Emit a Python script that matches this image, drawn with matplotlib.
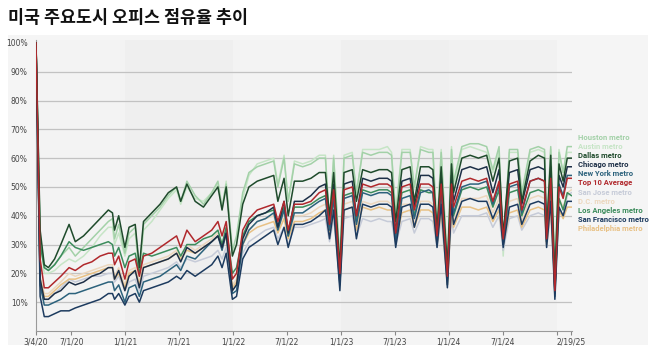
import matplotlib
matplotlib.use("Agg")
import matplotlib.pyplot as plt
import numpy as np
import pandas as pd

dates = [
    "2020-03-04", "2020-03-18", "2020-04-01", "2020-04-15", "2020-05-06", "2020-05-27", "2020-06-24", "2020-07-15",
    "2020-08-12", "2020-09-09", "2020-10-07", "2020-11-04", "2020-11-18", "2020-11-25", "2020-12-09", "2020-12-30",
    "2021-01-13", "2021-02-03", "2021-02-17", "2021-03-03", "2021-03-31", "2021-04-28", "2021-05-26", "2021-06-23",
    "2021-07-07", "2021-07-28", "2021-08-25", "2021-09-22", "2021-10-20", "2021-11-10", "2021-11-24", "2021-12-08",
    "2021-12-29",
    "2022-01-12", "2022-02-02", "2022-02-23", "2022-03-23", "2022-04-20", "2022-05-18", "2022-06-01", "2022-06-22",
    "2022-07-06", "2022-07-27", "2022-08-24", "2022-09-21", "2022-10-19", "2022-11-09", "2022-11-23", "2022-12-07",
    "2022-12-28",
    "2023-01-11", "2023-02-08", "2023-02-22", "2023-03-15", "2023-04-12", "2023-05-10", "2023-06-07", "2023-06-21",
    "2023-07-05", "2023-07-26", "2023-08-23", "2023-09-06", "2023-09-27", "2023-10-25", "2023-11-08", "2023-11-22",
    "2023-12-06", "2023-12-27",
    "2024-01-10", "2024-01-17", "2024-02-14", "2024-03-13", "2024-04-10", "2024-05-08", "2024-05-29", "2024-06-19",
    "2024-07-03", "2024-07-24", "2024-08-21", "2024-09-04", "2024-10-02", "2024-10-30", "2024-11-20", "2024-11-27",
    "2024-12-11", "2024-12-25",
    "2025-01-08", "2025-01-22", "2025-02-05", "2025-02-19",
]

houston = [100, 33, 22, 21, 23, 26, 29, 26, 29, 32, 35, 38, 39, 32, 37, 27,
           34, 36, 20, 37, 40, 43, 47, 50, 45, 52, 47, 44, 48, 52, 43, 51, 28,
           33, 48, 55, 57, 58, 59, 50, 60, 45, 58, 57, 58, 60, 60, 38, 60, 24,
           60, 61, 48, 62, 61, 62, 62, 61, 40, 62, 62, 50, 63, 62, 62, 35, 62, 23,
           63, 52, 64, 65, 65, 64, 56, 64, 28, 63, 63, 48, 63, 64, 63, 35, 64, 20,
           62, 55, 64, 64]
austin = [100, 32, 20, 20, 21, 23, 25, 24, 26, 29, 33, 36, 36, 30, 34, 26,
          32, 34, 19, 35, 38, 42, 46, 49, 44, 50, 46, 45, 48, 51, 42, 52, 27,
          30, 46, 54, 58, 59, 60, 51, 61, 45, 59, 58, 59, 61, 61, 37, 61, 23,
          61, 62, 47, 63, 63, 63, 64, 62, 41, 63, 63, 49, 64, 63, 63, 34, 63, 22,
          64, 50, 63, 64, 63, 62, 55, 62, 26, 62, 62, 47, 62, 63, 62, 34, 63, 19,
          63, 55, 62, 62]
dallas = [100, 35, 23, 22, 25, 30, 37, 31, 33, 36, 39, 42, 41, 35, 40, 29,
          36, 37, 22, 38, 41, 44, 48, 50, 45, 51, 45, 43, 47, 50, 42, 50, 26,
          30, 44, 50, 52, 53, 54, 45, 53, 40, 52, 52, 53, 55, 55, 40, 55, 22,
          55, 56, 45, 56, 55, 56, 56, 55, 38, 56, 57, 45, 57, 57, 56, 35, 57, 22,
          58, 48, 60, 61, 60, 61, 52, 60, 33, 59, 60, 45, 59, 61, 60, 34, 61, 18,
          58, 52, 60, 60]
chicago = [100, 18, 11, 11, 13, 14, 17, 16, 17, 19, 20, 22, 22, 18, 21, 14,
           19, 21, 15, 22, 23, 24, 25, 27, 24, 29, 27, 29, 31, 33, 29, 34, 14,
           16, 32, 37, 40, 41, 43, 36, 45, 34, 45, 45, 47, 50, 51, 37, 51, 18,
           51, 52, 40, 53, 52, 53, 53, 52, 34, 52, 53, 43, 54, 54, 53, 33, 54, 18,
           54, 45, 56, 57, 56, 57, 48, 56, 33, 55, 56, 44, 56, 57, 56, 33, 57, 13,
           54, 50, 57, 57]
new_york = [100, 16, 9, 9, 10, 11, 13, 13, 14, 15, 16, 17, 17, 14, 16, 10,
            15, 16, 12, 17, 18, 19, 21, 23, 21, 26, 25, 28, 31, 33, 28, 34, 13,
            14, 30, 35, 38, 39, 41, 35, 42, 33, 41, 41, 43, 45, 46, 35, 46, 16,
            46, 47, 37, 48, 47, 48, 48, 47, 31, 46, 47, 39, 48, 49, 48, 30, 49, 16,
            49, 41, 50, 51, 51, 52, 44, 51, 30, 50, 51, 41, 52, 53, 52, 31, 53, 12,
            51, 47, 54, 54]
top10 = [100, 25, 15, 15, 17, 19, 22, 21, 23, 24, 26, 27, 27, 23, 26, 18,
         24, 25, 19, 26, 27, 29, 31, 33, 29, 35, 31, 33, 35, 38, 33, 38, 18,
         20, 35, 39, 42, 43, 44, 38, 45, 35, 44, 44, 45, 48, 49, 37, 49, 20,
         49, 50, 40, 51, 50, 51, 51, 50, 34, 50, 51, 42, 51, 51, 50, 33, 51, 19,
         51, 43, 52, 53, 52, 53, 45, 52, 32, 51, 52, 42, 52, 53, 52, 32, 53, 14,
         50, 46, 53, 53]
san_jose = [100, 16, 11, 11, 13, 15, 18, 17, 18, 19, 19, 20, 20, 17, 19, 14,
            17, 18, 14, 19, 20, 21, 22, 24, 22, 25, 24, 25, 26, 28, 25, 29, 14,
            16, 27, 31, 33, 35, 36, 32, 36, 30, 36, 36, 37, 38, 39, 31, 39, 17,
            39, 40, 33, 39, 38, 39, 38, 38, 30, 38, 39, 34, 39, 39, 38, 29, 39, 17,
            39, 34, 40, 40, 40, 41, 36, 40, 28, 39, 40, 35, 40, 41, 40, 29, 41, 15,
            42, 40, 47, 48]
dc = [100, 19, 13, 13, 15, 17, 20, 19, 20, 21, 22, 23, 23, 19, 22, 16,
      21, 22, 17, 23, 24, 25, 26, 28, 26, 30, 28, 30, 32, 34, 30, 34, 16,
      18, 31, 35, 38, 39, 40, 35, 41, 33, 40, 40, 41, 43, 44, 34, 44, 17,
      44, 45, 36, 45, 44, 45, 45, 44, 32, 44, 44, 37, 45, 45, 44, 31, 45, 17,
      45, 38, 46, 46, 46, 47, 41, 46, 30, 45, 46, 38, 46, 47, 46, 31, 47, 14,
      46, 43, 48, 49]
los_angeles = [100, 30, 22, 21, 23, 26, 31, 29, 28, 29, 30, 31, 30, 26, 29, 22,
               26, 27, 20, 27, 26, 27, 28, 29, 26, 30, 30, 32, 33, 35, 30, 36, 20,
               22, 33, 38, 40, 41, 42, 36, 43, 33, 43, 43, 44, 46, 47, 36, 47, 19,
               47, 48, 38, 49, 48, 49, 49, 48, 33, 48, 49, 40, 49, 48, 48, 32, 48, 20,
               48, 40, 49, 50, 49, 50, 43, 49, 30, 48, 49, 40, 48, 49, 48, 31, 49, 15,
               46, 42, 48, 47]
san_francisco = [100, 12, 5, 5, 6, 7, 7, 8, 9, 10, 11, 13, 13, 11, 13, 9,
                 12, 13, 10, 14, 15, 16, 17, 19, 18, 21, 19, 21, 23, 26, 22, 27, 11,
                 12, 25, 29, 31, 33, 35, 30, 36, 29, 37, 37, 38, 40, 42, 32, 42, 14,
                 42, 43, 32, 44, 43, 44, 44, 43, 29, 43, 44, 36, 44, 44, 43, 29, 44, 15,
                 44, 37, 45, 46, 45, 45, 39, 44, 29, 43, 44, 37, 44, 45, 44, 29, 45, 11,
                 43, 40, 45, 45]
philadelphia = [100, 18, 12, 12, 14, 16, 18, 18, 19, 20, 21, 22, 22, 18, 20, 15,
                20, 21, 16, 22, 23, 24, 25, 27, 25, 28, 27, 29, 31, 33, 29, 33, 15,
                17, 30, 34, 36, 37, 38, 34, 39, 32, 38, 38, 39, 41, 42, 33, 42, 17,
                42, 43, 35, 43, 42, 43, 42, 42, 31, 41, 42, 36, 42, 42, 41, 30, 42, 16,
                42, 36, 43, 43, 42, 43, 38, 42, 30, 41, 42, 36, 42, 43, 42, 30, 43, 15,
                42, 39, 43, 43]

labels = ["Houston metro", "Austin metro", "Dallas metro", "Chicago metro", "New York metro",
          "Top 10 Average", "San Jose metro", "D.C. metro", "Los Angeles metro",
          "San Francisco metro", "Philadelphia metro"]
colors = ["#a3d1a8", "#c6e5c6", "#1f4b2c", "#1d2f47", "#2c627c",
          "#b0282c", "#c6cbd8", "#ecd7be", "#3c8c5c", "#1d3b5f", "#e8c185"]
series = [houston, austin, dallas, chicago, new_york, top10, san_jose, dc,
          los_angeles, san_francisco, philadelphia]

tick_dates = ["2020-03-04", "2020-07-01", "2021-01-01", "2021-07-01", "2022-01-01", "2022-07-01",
              "2023-01-01", "2023-07-01", "2024-01-01", "2024-07-01", "2025-01-01", "2025-02-19"]
tick_labels = ["3/4/20", "7/1/20", "1/1/21", "7/1/21", "1/1/22", "7/1/22",
               "1/1/23", "7/1/23", "1/1/24", "7/1/24", "", "2/19/25"]
y_ticks = [10, 20, 30, 40, 50, 60, 70, 80, 90, 100]
y_labels = [f"{v}%" for v in y_ticks]
title = "미국 주요도시 오피스 점유율 추이"

x = pd.to_datetime(dates)
for s in series:
    assert len(s) == len(x)

W, H = 658, 351
fig = plt.figure(figsize=(W / 100, H / 100), dpi=100)
fig.patch.set_facecolor("white")

# light panel behind the chart
bg = fig.add_axes([8 / W, 6 / H, 640 / W, 310 / H], zorder=0)
bg.set_facecolor("#f5f5f5")
bg.set_xticks([])
bg.set_yticks([])
for sp in bg.spines.values():
    sp.set_visible(False)

ax = fig.add_axes([36 / W, (H - 331) / H, (572 - 36) / W, 291 / H], zorder=1)
ax.set_facecolor("#f1f1f1")
ax.set_xlim(pd.Timestamp("2020-03-04"), pd.Timestamp("2025-02-21"))
ax.set_ylim(0, 101)

# alternating year bands (very subtle)
band_edges = ["2020-03-04", "2021-01-01", "2022-01-01", "2023-01-01", "2024-01-01", "2025-01-01", "2025-02-21"]
band_cols = ["#f3f3f3", "#efefef", "#f3f3f3", "#efefef", "#f1f1f1", "#f5f5f5"]
for i in range(len(band_edges) - 1):
    ax.axvspan(pd.Timestamp(band_edges[i]), pd.Timestamp(band_edges[i + 1]),
               color=band_cols[i], zorder=0, lw=0)

for v in y_ticks[:-1]:
    ax.axhline(v, color="#c2c2c2", lw=0.9, zorder=1)

draw_order = [1, 0, 6, 7, 10, 8, 4, 3, 9, 2, 5]
for i in draw_order:
    ax.plot(x, series[i], color=colors[i], lw=1.1, zorder=3)

ax.set_yticks(y_ticks)
ax.set_yticklabels(y_labels)
ax.set_xticks(pd.to_datetime(tick_dates))
ax.set_xticklabels(tick_labels)
ax.tick_params(axis="y", length=0, labelsize=5.5, colors="#444444", pad=6)
ax.tick_params(axis="x", length=3, width=0.8, color="#888888", labelsize=5.5,
               labelcolor="#444444", pad=2)
for side in ["top", "right"]:
    ax.spines[side].set_visible(False)
ax.spines["left"].set_color("#9a9a9a")
ax.spines["bottom"].set_color("#9a9a9a")
ax.spines["left"].set_linewidth(0.8)
ax.spines["bottom"].set_linewidth(0.8)

fig.text(8 / W, 1 - 18 / H, title, family=["Noto Sans CJK KR", "DejaVu Sans"],
         fontsize=12.5, fontweight="bold", va="center", ha="left", color="#111111")

y0 = 137
for k, (lab, col) in enumerate(zip(labels, colors)):
    fig.text(578 / W, 1 - (y0 + k * 9.2) / H, lab, color=col,
             family=["Roboto", "DejaVu Sans"],
             fontsize=5.5, fontweight="bold", va="center", ha="left")

fig.savefig("out.png", dpi=100, facecolor="white")
